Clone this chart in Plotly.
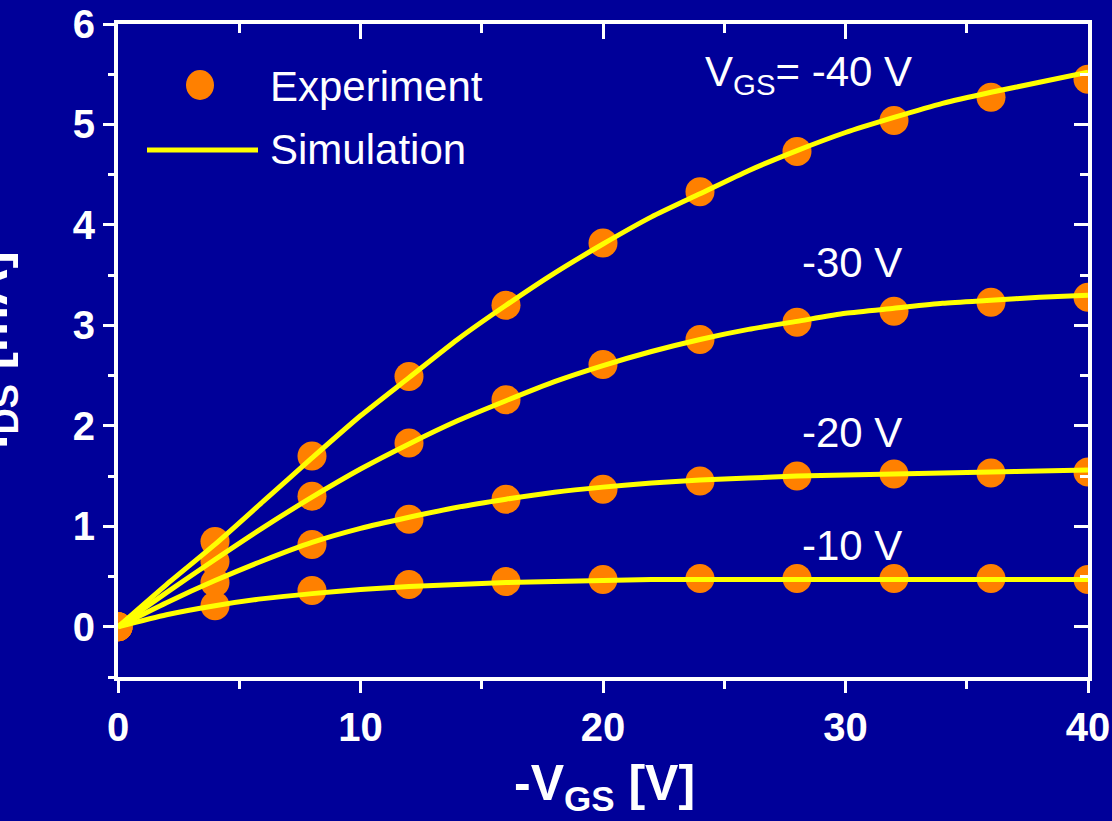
import plotly.graph_objects as go

# Measured output characteristics (drain current vs. bias), four gate voltages
v_exp = [0, 4, 8, 12, 16, 20, 24, 28, 32, 36, 40]
i_exp_40 = [0, 0.85, 1.70, 2.49, 3.20, 3.82, 4.33, 4.73, 5.04, 5.27, 5.45]
i_exp_30 = [0, 0.65, 1.30, 1.83, 2.26, 2.61, 2.86, 3.03, 3.14, 3.23, 3.28]
i_exp_20 = [0, 0.44, 0.82, 1.07, 1.27, 1.37, 1.45, 1.50, 1.52, 1.53, 1.54]
i_exp_10 = [0, 0.21, 0.36, 0.42, 0.45, 0.47, 0.48, 0.48, 0.48, 0.48, 0.47]

# Simulated curves
v_sim = [0, 2, 4, 6, 8, 10, 12, 14, 16, 18, 20, 22, 24, 26, 28, 30, 32, 34, 36, 38, 40]
i_sim_40 = [0, 0.42, 0.82, 1.25, 1.68, 2.10, 2.48, 2.86, 3.20, 3.52, 3.81, 4.08, 4.31,
            4.54, 4.74, 4.92, 5.07, 5.21, 5.32, 5.42, 5.52]
i_sim_30 = [0, 0.34, 0.67, 0.99, 1.29, 1.57, 1.82, 2.05, 2.25, 2.44, 2.60, 2.74, 2.86,
            2.96, 3.04, 3.12, 3.17, 3.22, 3.25, 3.28, 3.30]
i_sim_20 = [0, 0.24, 0.46, 0.66, 0.84, 0.98, 1.09, 1.19, 1.27, 1.34, 1.39, 1.43, 1.46,
            1.48, 1.50, 1.51, 1.52, 1.53, 1.54, 1.55, 1.56]
i_sim_10 = [0, 0.12, 0.21, 0.28, 0.33, 0.37, 0.40, 0.42, 0.44, 0.45, 0.46, 0.47, 0.47,
            0.47, 0.47, 0.47, 0.47, 0.47, 0.47, 0.47, 0.47]

curve_labels = ["V<sub>GS</sub>= -40 V", "-30 V", "-20 V", "-10 V"]

BG = "#000099"
ORANGE = "#FF8000"
YELLOW = "#FFFF00"
FONT = "Arial, Liberation Sans, sans-serif"

fig = go.Figure()

for ys in (i_exp_40, i_exp_30, i_exp_20, i_exp_10):
    fig.add_trace(go.Scatter(x=v_exp, y=ys, mode="markers",
                             marker=dict(size=29, color=ORANGE, line=dict(width=0)),
                             showlegend=False, hoverinfo="skip"))
for ys in (i_sim_40, i_sim_30, i_sim_20, i_sim_10):
    fig.add_trace(go.Scatter(x=v_sim, y=ys, mode="lines",
                             line=dict(color=YELLOW, width=5, shape="spline", smoothing=0.6),
                             showlegend=False, hoverinfo="skip"))

# mirrored frame axes (top / right) with inward ticks
fig.add_trace(go.Scatter(x=[None], y=[None], xaxis="x2", yaxis="y2",
                         showlegend=False, hoverinfo="skip"))

W, H = 1112, 821
L, R, T, B = 118, 24, 24, 144
pw, ph = W - L - R, H - T - B


def px_x(p):
    return (p - L) / pw


def px_y(p):
    return (H - B - p) / ph


tickfont = dict(family=FONT, size=40, color="white", weight="bold")
common = dict(showgrid=False, zeroline=False, showline=True, linecolor="white",
              linewidth=4, tickcolor="white", tickwidth=3, automargin=False)

fig.update_layout(
    template="none",
    width=W, height=H,
    margin=dict(l=L, r=R, t=T, b=B, pad=0, autoexpand=False),
    paper_bgcolor=BG, plot_bgcolor=BG,
    showlegend=False,
    xaxis=dict(range=[0, 40], dtick=10, ticks="outside", ticklen=12,
               minor=dict(ticks="outside", ticklen=8, dtick=5, tickcolor="white", tickwidth=3),
               tickfont=tickfont, **common),
    yaxis=dict(range=[-0.5, 6], dtick=1, ticks="outside", ticklen=11,
               minor=dict(ticks="outside", ticklen=6, dtick=0.5, tickcolor="white", tickwidth=3),
               tickfont=tickfont, **common),
    xaxis2=dict(range=[0, 40], overlaying="x", side="top", dtick=10, ticks="inside",
                ticklen=15, showticklabels=False,
                minor=dict(ticks="inside", ticklen=9, dtick=5, tickcolor="white", tickwidth=3),
                **common),
    yaxis2=dict(range=[-0.5, 6], overlaying="y", side="right", dtick=1, ticks="inside",
                ticklen=14, showticklabels=False,
                minor=dict(ticks="inside", ticklen=8, dtick=0.5, tickcolor="white", tickwidth=3),
                **common),
)

annotations = []
# axis titles
annotations.append(dict(text="-V<sub>GS</sub> [V]", xref="paper", yref="paper",
                        x=px_x(604), y=px_y(786), xanchor="center", yanchor="middle",
                        showarrow=False,
                        font=dict(family=FONT, size=50, color="white", weight="bold")))
annotations.append(dict(text="I<sub>DS</sub> [mA]", xref="paper", yref="paper",
                        x=px_x(28), y=px_y(350), xanchor="right", yanchor="middle",
                        textangle=-90, showarrow=False,
                        font=dict(family=FONT, size=52, color="white", weight="bold")))

# curve labels
label_pos = [(703, 74), (800, 262), (800, 432), (800, 545)]
for txt, (lx, ly) in zip(curve_labels, label_pos):
    annotations.append(dict(text=txt, xref="paper", yref="paper",
                            x=px_x(lx), y=px_y(ly), xanchor="left", yanchor="middle",
                            showarrow=False,
                            font=dict(family=FONT, size=42, color="white")))

# legend
legend_font = dict(family=FONT, size=42, color="white")
annotations.append(dict(text="Experiment", xref="paper", yref="paper",
                        x=px_x(268), y=px_y(86), xanchor="left", yanchor="middle",
                        showarrow=False, font=legend_font))
annotations.append(dict(text="Simulation", xref="paper", yref="paper",
                        x=px_x(268), y=px_y(150), xanchor="left", yanchor="middle",
                        showarrow=False, font=legend_font))
fig.update_layout(annotations=annotations)

fig.add_shape(type="circle", xref="paper", yref="paper",
              x0=px_x(186), x1=px_x(214), y0=px_y(100), y1=px_y(70),
              fillcolor=ORANGE, line=dict(width=0), layer="above")
fig.add_shape(type="line", xref="paper", yref="paper",
              x0=px_x(147), x1=px_x(258), y0=px_y(150), y1=px_y(150),
              line=dict(color=YELLOW, width=5), layer="above")

fig.write_html("out.html")
